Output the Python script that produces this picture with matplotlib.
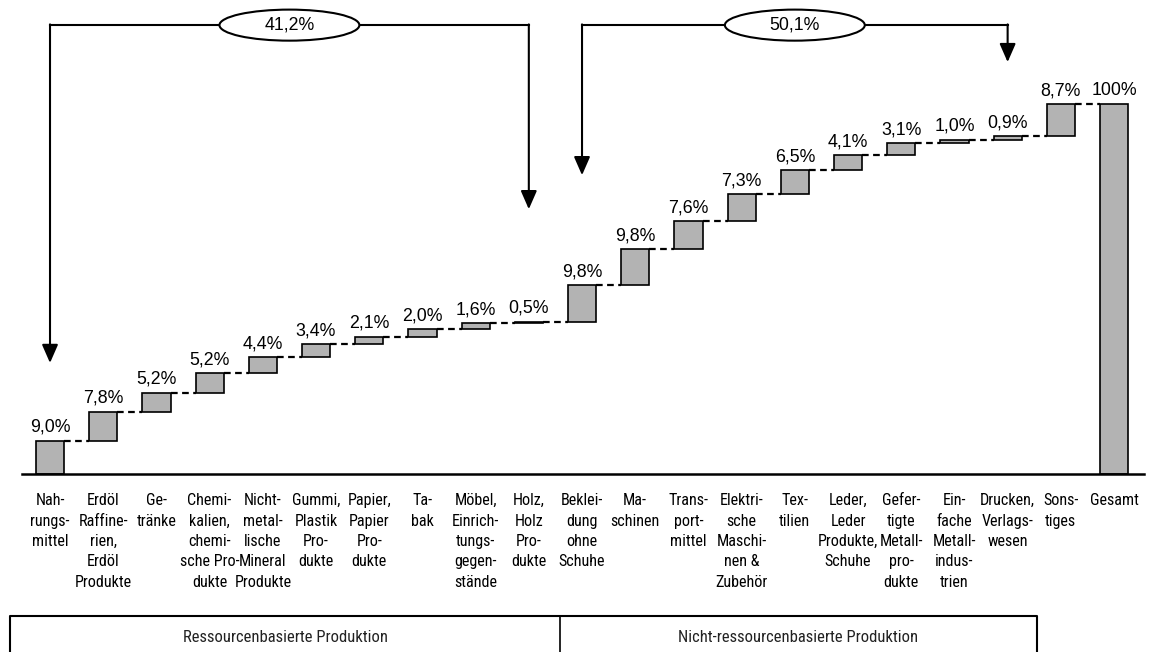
import numpy as np
import matplotlib
matplotlib.use("Agg")
import matplotlib.pyplot as plt
from matplotlib.patches import Ellipse
from matplotlib import font_manager as fm

# Daten
categories = [
    "Nah-\nrungs-\nmittel",
    "Erdöl\nRaffine-\nrien,\nErdöl\nProdukte",
    "Ge-\ntränke",
    "Chemi-\nkalien,\nchemi-\nsche Pro-\ndukte",
    "Nicht-\nmetal-\nlische\nMineral\nProdukte",
    "Gummi,\nPlastik\nPro-\ndukte",
    "Papier,\nPapier\nPro-\ndukte",
    "Ta-\nbak",
    "Möbel,\nEinrich-\ntungs-\ngegen-\nstände",
    "Holz,\nHolz\nPro-\ndukte",
    "Beklei-\ndung\nohne\nSchuhe",
    "Ma-\nschinen",
    "Trans-\nport-\nmittel",
    "Elektri-\nsche\nMaschi-\nnen &\nZubehör",
    "Tex-\ntilien",
    "Leder,\nLeder\nProdukte,\nSchuhe",
    "Gefer-\ntigte\nMetall-\npro-\ndukte",
    "Ein-\nfache\nMetall-\nindus-\ntrien",
    "Drucken,\nVerlags-\nwesen",
    "Sons-\ntiges",
]
total_label = "Gesamt"
values = [9.0, 7.8, 5.2, 5.2, 4.4, 3.4, 2.1, 2.0, 1.6, 0.5,
          9.8, 9.8, 7.6, 7.3, 6.5, 4.1, 3.1, 1.0, 0.9, 8.7]
total = 100
n_res = 10          # Ressourcenbasiert: erste 10 Kategorien
group_names = ["Ressourcenbasierte Produktion", "Nicht-ressourcenbasierte Produktion"]

plain = ["Liberation Sans", "DejaVu Sans"]

# schmale Schrift suchen (Arial Narrow Ersatz)
def find_narrow():
    wanted = ["Liberation Sans Narrow", "Arial Narrow", "Roboto Condensed",
              "Open Sans Condensed", "DejaVu Sans Condensed", "Noto Sans Condensed"]
    files = {}
    for f in fm.fontManager.ttflist:
        base = f.fname.split("/")[-1].lower()
        if any(k in base for k in ["bold", "italic", "light", "thin", "black", "medium", "oblique"]):
            continue
        key = f.name + (" Condensed" if "condensed" in base and "Condensed" not in f.name else "")
        files.setdefault(key, f.fname)
    for w in wanted:
        if w in files:
            return files[w]
    return None

narrow_file = find_narrow()
def narrow_fp(size):
    if narrow_file:
        return fm.FontProperties(fname=narrow_file, size=size)
    return fm.FontProperties(family=plain, size=size * 0.87)

vals = np.array(values)
bottoms = np.concatenate([[0], np.cumsum(vals)[:-1]])
tops = bottoms + vals
x = np.arange(len(values))
x_tot = len(values)
w = 0.53

fig = plt.figure(figsize=(11.55, 6.52), dpi=100)
ax = fig.add_axes([0, 0, 1, 1])
ax.set_xlim(-0.94, 20.77)
ax.set_ylim(-48.2, 128.2)
ax.axis("off")

# Balken
ax.bar(x, vals, bottom=bottoms, width=w, color="#b3b3b3", edgecolor="black", lw=1.2, zorder=3)
ax.bar(x_tot, total, width=w, color="#b3b3b3", edgecolor="black", lw=1.2, zorder=3)

# gestrichelte Verbindungen
for i, lv in enumerate(tops):
    ax.plot([i + w / 2, i + 1 - w / 2], [lv, lv], color="black", lw=1.6,
            ls=(0, (3, 2)), zorder=2)

# Basislinie
ax.plot([-0.53, 20.56], [0, 0], color="black", lw=1.8, zorder=4)

# Werte
for i, v in enumerate(values):
    ax.annotate(f"{v:.1f}".replace(".", ",") + "%", (i, tops[i]), xytext=(0, 3.5),
                textcoords="offset points", ha="center", va="bottom",
                fontsize=12.8, family=plain)
ax.annotate(f"{total}%", (x_tot, total), xytext=(0, 3.5), textcoords="offset points",
            ha="center", va="bottom", fontsize=12.8, family=plain)

# Kategorien
for i, lab in enumerate(categories + [total_label]):
    ax.annotate(lab, (i, 0), xytext=(0, -14), textcoords="offset points",
                ha="center", va="top", fontproperties=narrow_fp(11.6), linespacing=1.45)

# Klammern mit Pfeilen
y_top = 121.4
brackets = [(0, n_res - 1, 30.0, 71.6, sum(values[:n_res])),
            (n_res, len(values) - 2, 80.8, 111.4, sum(values[n_res:-1]))]
for xl, xr, tl, tr, s in brackets:
    ax.plot([xl, xr], [y_top, y_top], color="black", lw=1.5, zorder=2)
    for xx, tip in [(xl, tl), (xr, tr)]:
        ax.annotate("", xy=(xx, tip), xytext=(xx, y_top + 0.2),
                    arrowprops=dict(arrowstyle="-|>,head_length=0.8,head_width=0.35",
                                    mutation_scale=14, lw=1.5, color="black",
                                    shrinkA=0, shrinkB=0))
    xm = (xl + xr) / 2
    ax.add_patch(Ellipse((xm, y_top), 2.63, 8.4, facecolor="white",
                         edgecolor="black", lw=1.5, zorder=5))
    ax.text(xm, y_top, f"{s:.1f}".replace(".", ",") + "%", ha="center", va="center",
            fontsize=12.8, family=plain, zorder=6)

# Gruppenkasten unten
y_box = -38.5
x_left, x_mid, x_right = -0.75, n_res - 0.41, 18.55
ax.plot([x_left, x_left, x_right, x_right], [-60, y_box, y_box, -60], color="black", lw=1.5)
ax.plot([x_mid, x_mid], [y_box, -60], color="black", lw=1.2)
ax.text((x_left + x_mid) / 2, -44.3, group_names[0], ha="center", va="center",
        fontproperties=narrow_fp(12), color="#222222")
ax.text((x_mid + x_right) / 2, -44.3, group_names[1], ha="center", va="center",
        fontproperties=narrow_fp(12), color="#222222")

fig.savefig("out.png", dpi=100)
